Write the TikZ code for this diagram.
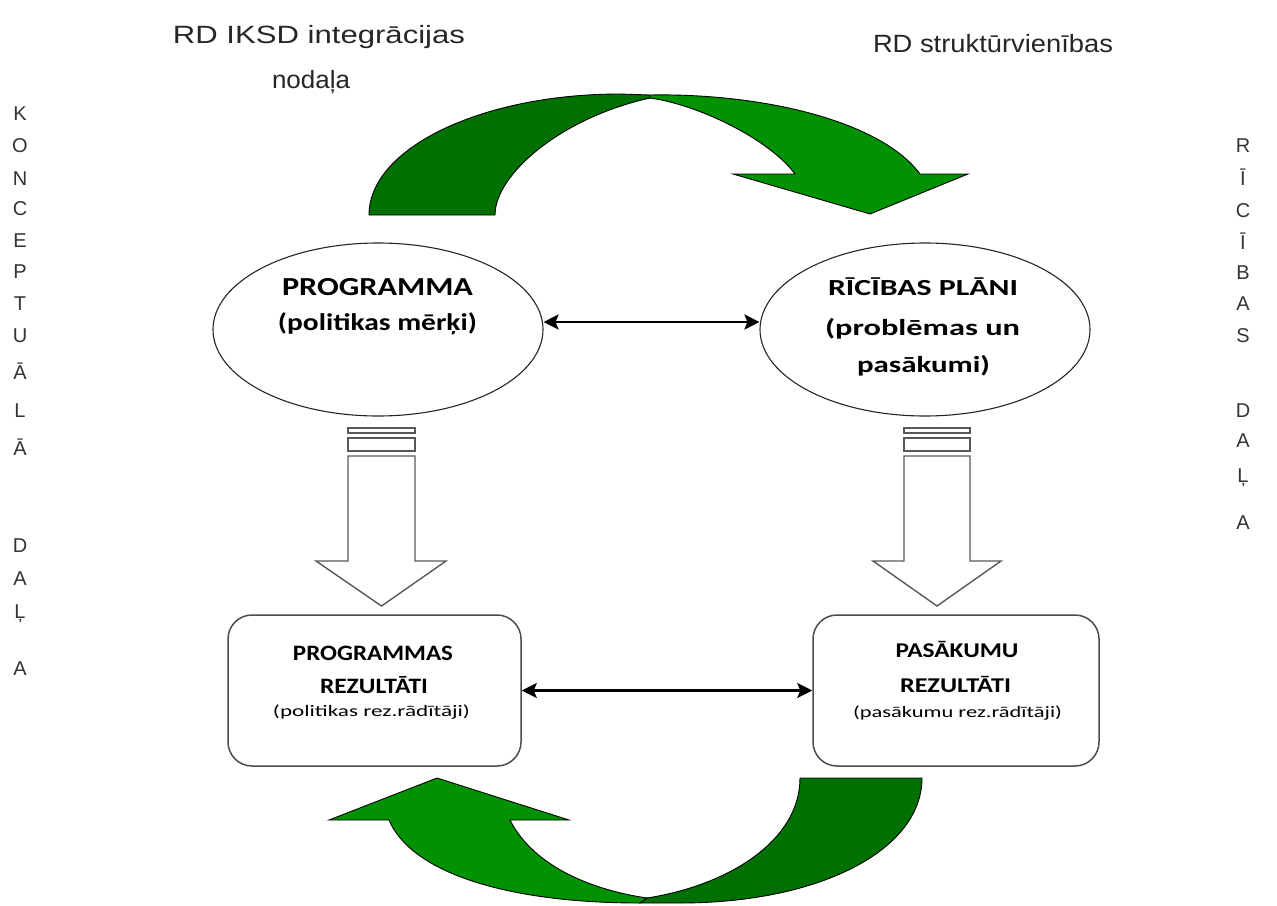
\documentclass[tikz,border=0pt]{standalone}
\usepackage{fontspec}
\usepackage{graphicx}
\setmainfont{Liberation Sans}
\newfontfamily\calfont{Carlito}
\usetikzlibrary{arrows.meta,shapes.geometric}
\definecolor{gdark}{RGB}{0,112,0}
\definecolor{glight}{RGB}{0,146,0}
\newcommand\fw[2]{\resizebox{#1pt}{\height}{#2}}
\begin{document}
\begin{tikzpicture}[x=1pt,y=-1pt,
  ell/.style={ellipse, draw=black!85, line width=1.1pt, fill=white, minimum width=330pt, minimum height=173pt, inner sep=0pt},
  rbox/.style={rectangle, rounded corners=24pt, draw=black!70, line width=1.5pt, fill=white, minimum height=151pt},
  dbl/.style={{Stealth[length=15pt,width=15pt,inset=3pt]}-{Stealth[length=15pt,width=15pt,inset=3pt]}, line width=2.5pt, black},
  darc/.style={fill=gdark, draw=black, line width=0.9pt},
  larc/.style={fill=glight, draw=black, line width=0.9pt},
  blk/.style={draw=black!65, line width=1.4pt, fill=white},
  lab/.style={anchor=base, text=black!85, inner sep=0pt},
  ctx/.style={anchor=base, text=black, inner sep=0pt},
  vl/.style={anchor=base, text=black!80, inner sep=0pt, font=\fontsize{20}{24}\selectfont}
]
\path[use as bounding box] (0,0) rectangle (1277,905);

% green curved arrows
\draw[darc] (369,215) .. controls (369,148.2) and (481.4,94) .. (620,94) -- (650,95) -- (650,98)
  .. controls (560,118) and (495,175) .. (495,215) -- cycle;
\draw[larc] (650,95) .. controls (760,93) and (880,120) .. (920,174) -- (968,174) -- (870,214)
  -- (733,174) -- (795,174) .. controls (770,140) and (700,105) .. (650,98) -- cycle;
\draw[darc] (800,778) -- (922,778) .. controls (922,850) and (820,903) .. (680,903) -- (640,903)
  -- (647,898) .. controls (730,885) and (800,840) .. (800,778) -- cycle;
\draw[larc] (647,898) .. controls (580,888) and (530,860) .. (510,820) -- (569,820) -- (437,778)
  -- (329,820) -- (389,820) .. controls (410,870) and (500,903) .. (640,903) -- cycle;

% ellipses and boxes
\node[ell] (prog) at (378,329.5) {};
\node[ell] (ric) at (925,329.5) {};
\node[rbox, minimum width=293pt] (pbox) at (374.5,690.5) {};
\node[rbox, minimum width=286pt] (abox) at (956,690.5) {};

% block down arrows
\draw[blk] (348,428) rectangle (415,433);
\draw[blk] (348,438) rectangle (415,451);
\draw[blk] (348,456) -- (415,456) -- (415,561) -- (446,561) -- (381.5,606) -- (316,561) -- (348,561) -- cycle;
\draw[blk] (904,428) rectangle (970,433);
\draw[blk] (904,438) rectangle (970,451);
\draw[blk] (904,456) -- (970,456) -- (970,561) -- (1001,561) -- (937,606) -- (873,561) -- (904,561) -- cycle;

% double arrows
\draw[dbl] ([yshift=7.5pt]prog.east) -- ([yshift=7.5pt]ric.west);
\draw[dbl] (pbox.east) -- (abox.west);

% top labels
\node[lab, font=\fontsize{25}{30}\selectfont] (t1) at (319,43) {\fw{292}{RD IKSD integrācijas}};
\node[lab, font=\fontsize{25}{30}\selectfont] (t2) at (311,88) {\fw{78}{nodaļa}};
\node[lab, font=\fontsize{25}{30}\selectfont] (t3) at (993,52) {\fw{240}{RD struktūrvienības}};

% ellipse texts
\node[ctx, font=\calfont\bfseries\fontsize{26}{30}\selectfont] (e1a) at (377.5,295) {\fw{191}{PROGRAMMA}};
\node[ctx, font=\calfont\bfseries\fontsize{24}{30}\selectfont] (e1b) at (377.5,330) {\fw{199}{(politikas mērķi)}};
\node[ctx, font=\calfont\bfseries\fontsize{23}{30}\selectfont] (e2a) at (923,295) {\fw{190}{RĪCĪBAS PLĀNI}};
\node[ctx, font=\calfont\bfseries\fontsize{23}{30}\selectfont] (e2b) at (922.5,335) {\fw{195}{(problēmas un}};
\node[ctx, font=\calfont\bfseries\fontsize{23}{30}\selectfont] (e2c) at (923.5,372) {\fw{133}{pasākumi)}};

% box texts
\node[ctx, font=\calfont\bfseries\fontsize{22}{26}\selectfont] (b1a) at (373,660) {\fw{160}{PROGRAMMAS}};
\node[ctx, font=\calfont\bfseries\fontsize{22}{26}\selectfont] (b1b) at (374,693) {\fw{108}{REZULTĀTI}};
\node[ctx, font=\calfont\fontsize{16}{20}\selectfont] (b1c) at (371.5,716) {\fw{197}{(politikas rez.rādītāji)}};
\node[ctx, font=\calfont\bfseries\fontsize{21}{26}\selectfont] (b2a) at (957,657) {\fw{123}{PASĀKUMU}};
\node[ctx, font=\calfont\bfseries\fontsize{21}{26}\selectfont] (b2b) at (955.5,692) {\fw{111}{REZULTĀTI}};
\node[ctx, font=\calfont\fontsize{16}{20}\selectfont] (b2c) at (957.5,717) {\fw{209}{(pasākumu rez.rādītāji)}};

% vertical side texts
\foreach \l/\y [count=\i] in {K/120,O/152,N/185,C/215,E/247,P/278,T/310,U/342,Ā/379,L/417,Ā/455,D/552,A/585,Ļ/618,A/675}
  \node[vl] (kl\i) at (20,\y) {\l};
\foreach \l/\y [count=\i] in {R/152,Ī/185,C/217,Ī/249,B/279,A/310,S/342,D/417,A/447,Ļ/482,A/529}
  \node[vl] (rl\i) at (1243,\y) {\l};
\end{tikzpicture}
\end{document}
